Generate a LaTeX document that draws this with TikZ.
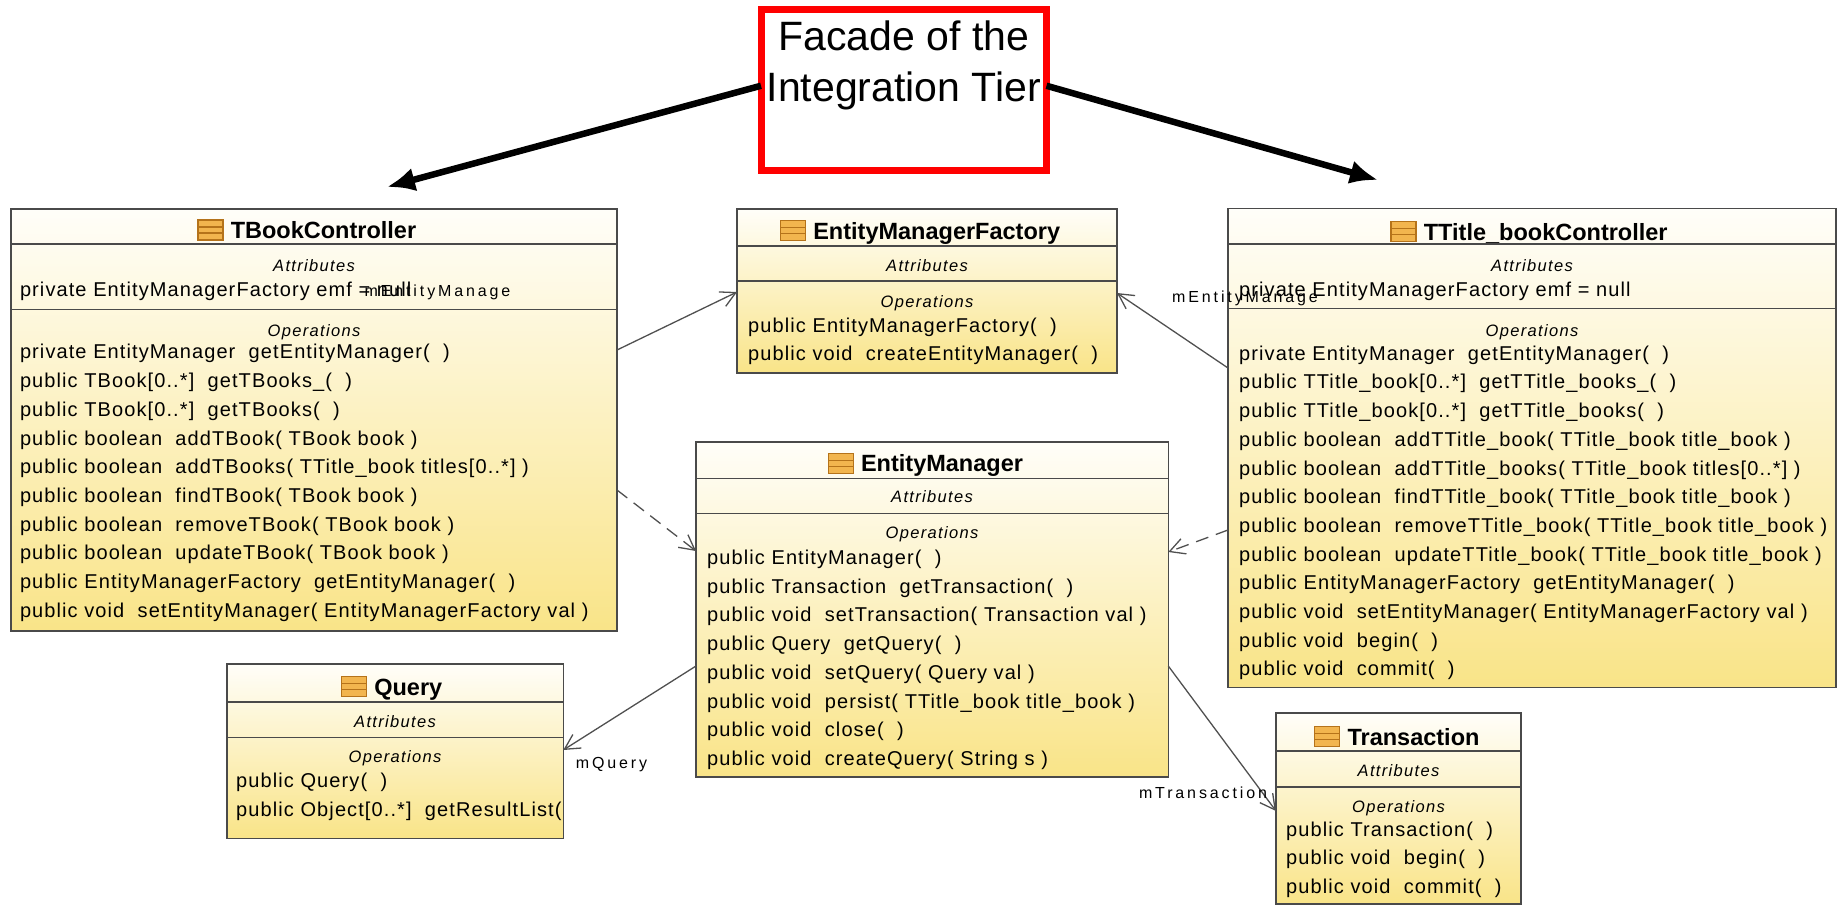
\documentclass[tikz,border=0pt]{standalone}
\usepackage{fontspec}
\setmainfont{Liberation Sans}
\newfontfamily\opfont[LetterSpace=5.5]{Liberation Sans}
\newfontfamily\compfont[LetterSpace=8]{Liberation Sans}
\newfontfamily\rolefont[LetterSpace=18]{Liberation Sans}
\usetikzlibrary{positioning,arrows.meta}
\definecolor{clstop}{HTML}{FFFEF9}
\definecolor{clsbot}{HTML}{F9E488}
\definecolor{boxline}{HTML}{4A4A4A}
\definecolor{iconfill}{HTML}{F2B54E}
\definecolor{iconline}{HTML}{B5731A}
\definecolor{linkline}{HTML}{505050}
\tikzset{
  classbox/.style={anchor=north west, draw=boxline, line width=1.6pt, top color=clstop, bottom color=clsbot, inner sep=0pt, outer sep=0pt},
  sepline/.style={draw=boxline, line width=1.6pt},
  clsname/.style={font=\bfseries\fontsize{23.5}{28}\selectfont, inner sep=0pt, text height=17pt, text depth=0pt},
  clsicon/.style={draw=iconline, fill=iconfill, line width=1.2pt, minimum width=25pt, minimum height=20pt, inner sep=0pt,
    path picture={\draw[iconline, line width=1.2pt] ([yshift=-7pt]path picture bounding box.north west) -- ([yshift=-7pt]path picture bounding box.north east)
      ([yshift=7pt]path picture bounding box.south west) -- ([yshift=7pt]path picture bounding box.south east);}},
  comptitle/.style={font=\compfont\itshape\fontsize{16.5}{20}\selectfont, inner sep=0pt, text height=12pt, text depth=0pt},
  oprow/.style={anchor=west, font=\opfont\fontsize{20}{28.7}\selectfont, inner sep=0pt, text height=12pt, text depth=0pt},
  oplist/.style={anchor=north west, align=left, font=\opfont\fontsize{20}{28.7}\selectfont, inner sep=0pt},
  rolename/.style={font=\rolefont\fontsize{16}{19}\selectfont, inner sep=0pt, text height=11.5pt, text depth=0pt},
  assoc/.style={draw=linkline, line width=1.3pt, -{Straight Barb[length=15pt,width=16pt]}},
  dep/.style={assoc, dash pattern=on 13pt off 8pt},
  facadebox/.style={draw=red, line width=7pt, minimum width=285.5pt, minimum height=160.5pt, inner sep=0pt, outer sep=0pt},
  facadetext/.style={font=\fontsize{41}{51}\selectfont, align=center, inner sep=0pt},
  facadearrow/.style={line width=6.5pt, -{Latex[length=28pt,width=24pt]}},
}
\begin{document}
\begin{tikzpicture}[x=1pt,y=-1pt]
\useasboundingbox (0,0) rectangle (1839,906);

% facade note
\node[facadebox] (facade) at (903.75,89.75) {};
\node[facadetext] (facadetxt) at (903.75,65) {Facade of the\\Integration Tier};
\coordinate (tipL) at (387,187);
\coordinate (tipR) at (1378,180);
\draw[facadearrow] ([yshift=4pt]facade.west) -- (tipL);
\draw[facadearrow] ([yshift=4pt]facade.east) -- (tipR);

% TBookController
\node[classbox, minimum width=606pt, minimum height=422pt] (tbook) at (11,209) {};
\node[clsname] (tbookname) at (323.5,230) {TBookController};
\node[clsicon, left=7pt of tbookname] (tbookicon) {};
\draw[sepline] (tbook.west |- 0,244) -- (tbook.east |- 0,244);
\node[comptitle] (tbookattr) at (314,265) {Attributes};
\node[oprow] (tbookemf) at (19.8,290.7) {private EntityManagerFactory emf = null};
\draw[sepline] (tbook.west |- 0,309.3) -- (tbook.east |- 0,309.3);
\node[comptitle] (tbookoper) at (314,330) {Operations};
\node[oplist] (tbookops) at (19.8,338.6) {\strut private EntityManager~~getEntityManager(~~)\\
public TBook[0..*]~~getTBooks\_(~~)\\
public TBook[0..*]~~getTBooks(~~)\\
public boolean~~addTBook( TBook book )\\
public boolean~~addTBooks( TTitle\_book titles[0..*] )\\
public boolean~~findTBook( TBook book )\\
public boolean~~removeTBook( TBook book )\\
public boolean~~updateTBook( TBook book )\\
public EntityManagerFactory~~getEntityManager(~~)\\
public void~~setEntityManager( EntityManagerFactory val )};

% EntityManagerFactory
\node[classbox, minimum width=380pt, minimum height=164pt] (emf) at (737,209) {};
\node[clsname] (emfname) at (936.7,230.7) {EntityManagerFactory};
\node[clsicon, left=7pt of emfname] (emficon) {};
\draw[sepline] (emf.west |- 0,246) -- (emf.east |- 0,246);
\node[comptitle] (emfattr) at (927,265) {Attributes};
\draw[sepline] (emf.west |- 0,281) -- (emf.east |- 0,281);
\node[comptitle] (emfoper) at (927,301.7) {Operations};
\node[oplist] (emfops) at (748,311.9) {\strut public EntityManagerFactory(~~)\\
public void~~createEntityManager(~~)};

% TTitle_bookController
\node[classbox, minimum width=608pt, minimum height=479pt] (ttitle) at (1228,208.3) {};
\node[clsname] (ttitlename) at (1545.7,231.7) {TTitle\_bookController};
\node[clsicon, left=7pt of ttitlename] (ttitleicon) {};
\draw[sepline] (ttitle.west |- 0,244) -- (ttitle.east |- 0,244);
\node[comptitle] (ttitleattr) at (1532,265) {Attributes};
\node[oprow] (ttitleemf) at (1239,290.7) {private EntityManagerFactory emf = null};
\draw[sepline] (ttitle.west |- 0,308.3) -- (ttitle.east |- 0,308.3);
\node[comptitle] (ttitleoper) at (1532,330) {Operations};
\node[oplist] (ttitleops) at (1239,339.9) {\strut private EntityManager~~getEntityManager(~~)\\
public TTitle\_book[0..*]~~getTTitle\_books\_(~~)\\
public TTitle\_book[0..*]~~getTTitle\_books(~~)\\
public boolean~~addTTitle\_book( TTitle\_book title\_book )\\
public boolean~~addTTitle\_books( TTitle\_book titles[0..*] )\\
public boolean~~findTTitle\_book( TTitle\_book title\_book )\\
public boolean~~removeTTitle\_book( TTitle\_book title\_book )\\
public boolean~~updateTTitle\_book( TTitle\_book title\_book )\\
public EntityManagerFactory~~getEntityManager(~~)\\
public void~~setEntityManager( EntityManagerFactory val )\\
public void~~begin(~~)\\
public void~~commit(~~)};

% EntityManager
\node[classbox, minimum width=472.3pt, minimum height=335pt] (em) at (696,441.7) {};
\node[clsname] (emname) at (942,463.3) {EntityManager};
\node[clsicon, left=7pt of emname] (emicon) {};
\draw[sepline] (em.west |- 0,478.3) -- (em.east |- 0,478.3);
\node[comptitle] (emattr) at (932,496.7) {Attributes};
\draw[sepline] (em.west |- 0,513.3) -- (em.east |- 0,513.3);
\node[comptitle] (emoper) at (932,532.7) {Operations};
\node[oplist] (emops) at (707,544.2) {\strut public EntityManager(~~)\\
public Transaction~~getTransaction(~~)\\
public void~~setTransaction( Transaction val )\\
public Query~~getQuery(~~)\\
public void~~setQuery( Query val )\\
public void~~persist( TTitle\_book title\_book )\\
public void~~close(~~)\\
public void~~createQuery( String s )};

% Query
\node[classbox, minimum width=336.6pt, minimum height=174.3pt] (query) at (226.7,664) {};
\node[clsname] (queryname) at (408.3,686.7) {Query};
\node[clsicon, left=7pt of queryname] (queryicon) {};
\draw[sepline] (query.west |- 0,701.7) -- (query.east |- 0,701.7);
\node[comptitle] (queryattr) at (395,721) {Attributes};
\draw[sepline] (query.west |- 0,737.3) -- (query.east |- 0,737.3);
\node[comptitle] (queryoper) at (395,756.7) {Operations};
\node[oplist] (queryops) at (236,767.6) {\strut public Query(~~)\\
public Object[0..*]~~getResultList(};

% Transaction
\node[classbox, minimum width=245pt, minimum height=191pt] (trans) at (1276,713) {};
\node[clsname] (transname) at (1413.5,736.7) {Transaction};
\node[clsicon, left=7pt of transname] (transicon) {};
\draw[sepline] (trans.west |- 0,750.7) -- (trans.east |- 0,750.7);
\node[comptitle] (transattr) at (1398.5,770.7) {Attributes};
\draw[sepline] (trans.west |- 0,786.7) -- (trans.east |- 0,786.7);
\node[comptitle] (transoper) at (1398.5,806) {Operations};
\node[oplist] (transops) at (1286,815.9) {\strut public Transaction(~~)\\
public void~~begin(~~)\\
public void~~commit(~~)};

% links
\draw[assoc] (tbook.east |- 0,350) -- (emf.west |- 0,292);
\draw[dep] (tbook.east |- 0,490) -- (em.west |- 0,551);
\draw[assoc] (ttitle.west |- 0,368) -- (emf.east |- 0,293);
\draw[dep] (ttitle.west |- 0,530) -- (em.east |- 0,552);
\draw[assoc] (em.west |- 0,666) -- (query.east |- 0,750);
\draw[assoc] (em.east |- 0,666) -- (trans.west |- 0,811);

% role names
\node[rolename] (tbookrole) at (437.5,290.7) {mEntityManage};
\node[rolename] (ttitlerole) at (1245,296.7) {mEntityManage};
\node[rolename] (queryrole) at (611.5,762.7) {mQuery};
\node[rolename] (transrole) at (1203,792.7) {mTransaction};
\end{tikzpicture}
\end{document}
